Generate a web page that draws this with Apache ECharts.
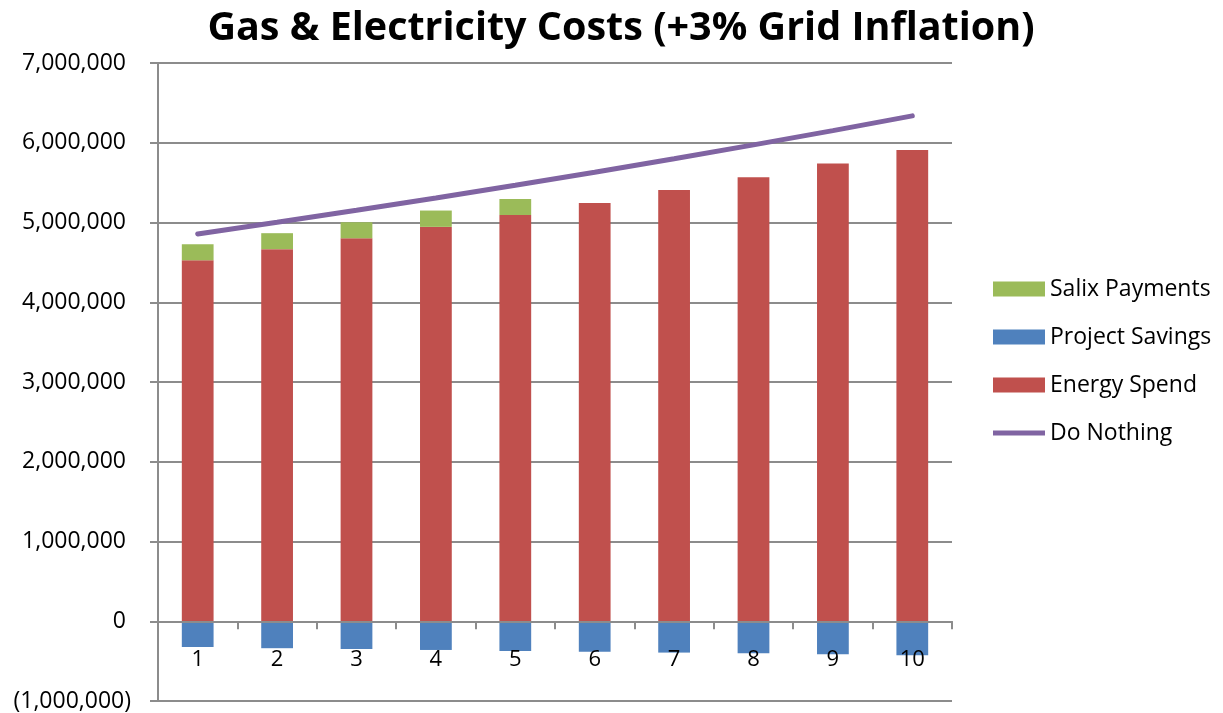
<!DOCTYPE html>
<html>
<head>
<meta charset="utf-8">
<title>Gas &amp; Electricity Costs</title>
<script src="https://cdn.jsdelivr.net/npm/echarts@6/dist/echarts.min.js"></script>
<style>
  html, body { margin: 0; padding: 0; background: #fff; }
  #chart { width: 1223px; height: 713px; }
</style>
</head>
<body>
<div id="chart"></div>
<script>
// --- Data ---
const years = ["1", "2", "3", "4", "5", "6", "7", "8", "9", "10"];
const energySpend = [4528000, 4666000, 4803000, 4945000, 5095000, 5246000, 5409000, 5568000, 5739000, 5910000];
const salixPayments = [200000, 200000, 200000, 205000, 200000, null, null, null, null, null];
const projectSavings = [-322000, -338000, -347000, -360000, -372000, -381000, -393000, -401000, -414000, -426000];
const doNothing = [4857000, 5003000, 5153000, 5307000, 5466000, 5630000, 5799000, 5973000, 6152000, 6337000];

const FONT = "'Open Sans', 'Noto Sans', sans-serif";
const GRID_GREY = "#8c8c8c";

// Excel-style accounting format: 1,000,000 and (1,000,000)
function fmt(v) {
  const s = Math.abs(v).toLocaleString("en-US");
  return v < 0 ? `{n|(${s})}` : `{p|${s}}`;
}

const chart = echarts.init(document.getElementById("chart"), null, { renderer: "canvas" });

chart.setOption({
  animation: false,
  title: {
    text: "Gas & Electricity Costs (+3% Grid Inflation)",
    left: 616,
    textAlign: "center",
    top: 4,
    textStyle: { fontFamily: FONT, fontSize: 39.5, fontWeight: "bold", color: "#000" },
  },
  legend: {
    orient: "vertical",
    left: 988,
    top: 272,
    itemWidth: 52,
    itemHeight: 15,
    itemGap: 24,
    data: [
      { name: "Salix Payments", icon: "rect" },
      { name: "Project Savings", icon: "rect" },
      { name: "Energy Spend", icon: "rect" },
      // plain thick line, no marker, like the Excel legend key
      { name: "Do Nothing", icon: "path://M0,0 L52,0 L52,5 L0,5 Z" },
    ],
    textStyle: { fontFamily: FONT, fontSize: 23, color: "#000", lineHeight: 24 },
  },
  grid: { left: 158, right: 271, top: 63, bottom: 12, outerBoundsMode: "none" },
  xAxis: {
    type: "category",
    data: years,
    z: 3, // category labels sit over the negative bars, as in Excel
    axisLine: { onZero: true, lineStyle: { color: GRID_GREY, width: 2 } },
    axisTick: { show: true, length: 8, lineStyle: { color: GRID_GREY, width: 2 } },
    // labels are laid out from the grid bottom, so pull them up under the zero line
    axisLabel: { margin: -52, fontFamily: FONT, fontSize: 22, color: "#000" },
  },
  yAxis: {
    type: "value",
    min: -1000000,
    max: 7000000,
    interval: 1000000,
    axisLine: { show: true, lineStyle: { color: GRID_GREY, width: 2 } },
    axisTick: { show: true, length: 8, lineStyle: { color: GRID_GREY, width: 2 } },
    splitLine: { lineStyle: { color: GRID_GREY, width: 2 } },
    axisLabel: {
      margin: 27,
      formatter: fmt,
      rich: {
        p: { fontFamily: FONT, fontSize: 23, color: "#000", padding: [0, 5, 0, 0] },
        n: { fontFamily: FONT, fontSize: 23, color: "#000" },
      },
    },
  },
  series: [
    {
      name: "Energy Spend",
      type: "bar",
      stack: "cost",
      barWidth: "40%",
      data: energySpend,
      itemStyle: { color: "#C0504D" },
    },
    {
      name: "Salix Payments",
      type: "bar",
      stack: "cost",
      data: salixPayments,
      itemStyle: { color: "#9BBB59" },
    },
    {
      name: "Project Savings",
      type: "bar",
      stack: "cost",
      data: projectSavings,
      itemStyle: { color: "#4F81BD" },
    },
    {
      name: "Do Nothing",
      type: "line",
      data: doNothing,
      symbol: "none",
      lineStyle: { color: "#8064A2", width: 5, cap: "round" },
      itemStyle: { color: "#8064A2" },
      z: 5,
    },
  ],
});
</script>
</body>
</html>
